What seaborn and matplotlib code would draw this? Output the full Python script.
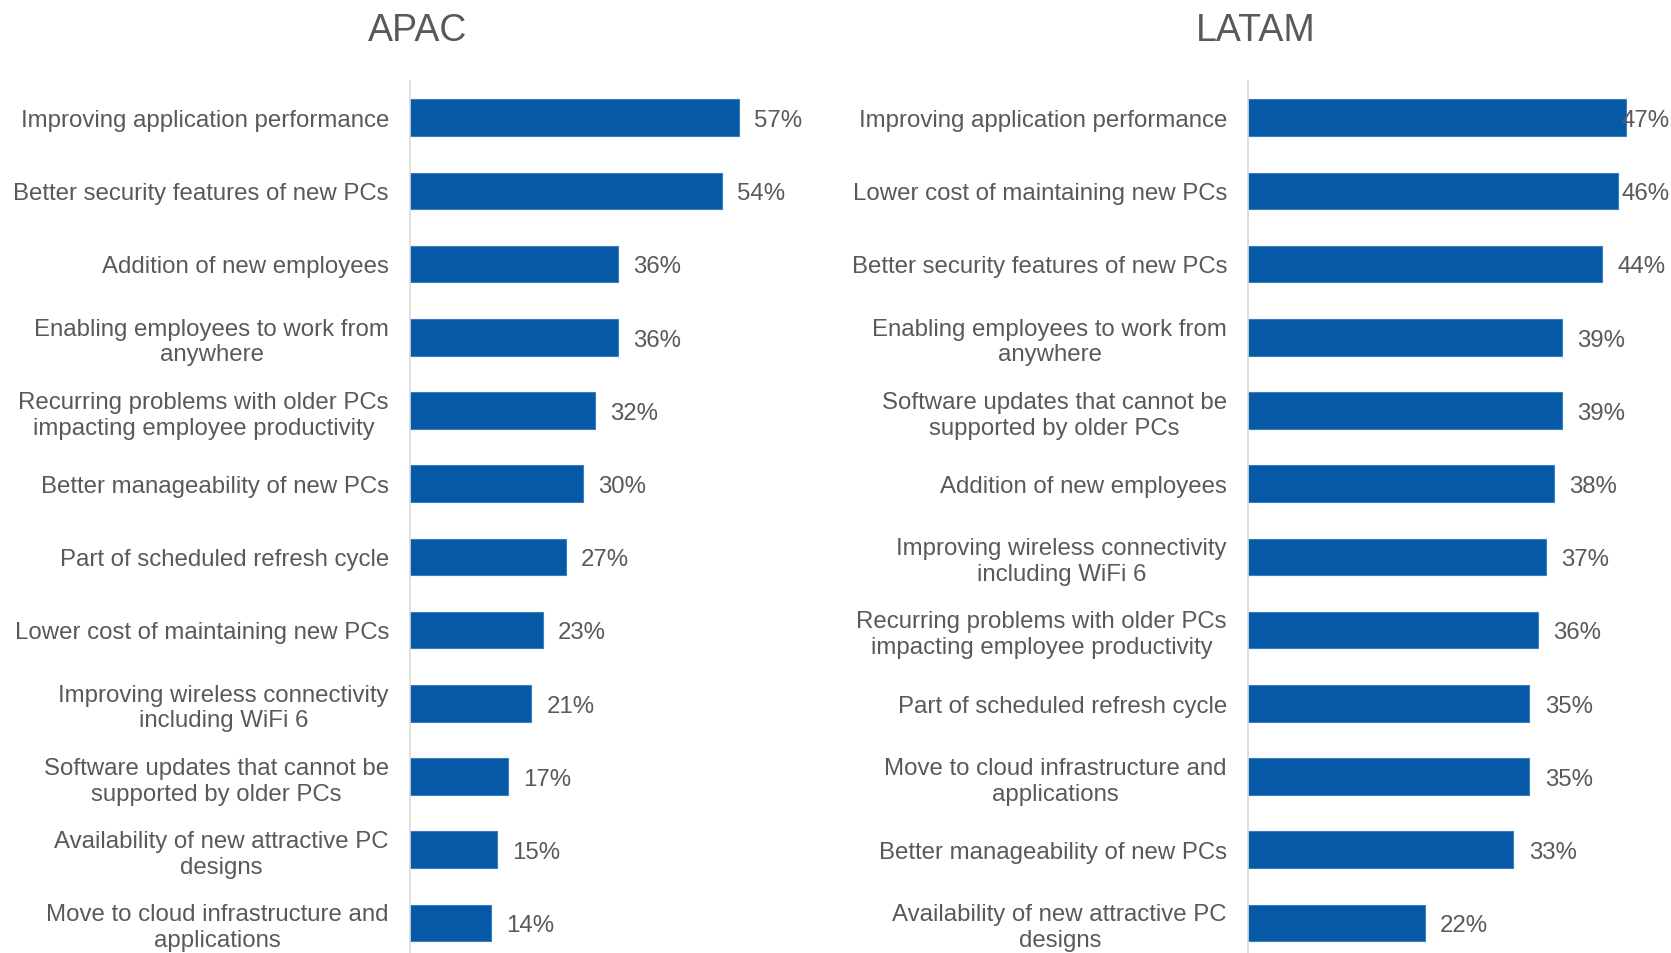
import matplotlib
matplotlib.use("Agg")
import matplotlib.pyplot as plt
import seaborn as sns
import pandas as pd

# reasons for PC refresh, share of respondents (%)
apac_labels = [
    "Improving application performance",
    "Better security features of new PCs",
    "Addition of new employees",
    "Enabling employees to work from\nanywhere",
    "Recurring problems with older PCs\nimpacting employee productivity",
    "Better manageability of new PCs",
    "Part of scheduled refresh cycle",
    "Lower cost of maintaining new PCs",
    "Improving wireless connectivity\nincluding WiFi 6",
    "Software updates that cannot be\nsupported by older PCs",
    "Availability of new attractive PC\ndesigns",
    "Move to cloud infrastructure and\napplications",
]
apac_values = [57, 54, 36, 36, 32, 30, 27, 23, 21, 17, 15, 14]

latam_labels = [
    "Improving application performance",
    "Lower cost of maintaining new PCs",
    "Better security features of new PCs",
    "Enabling employees to work from\nanywhere",
    "Software updates that cannot be\nsupported by older PCs",
    "Addition of new employees",
    "Improving wireless connectivity\nincluding WiFi 6",
    "Recurring problems with older PCs\nimpacting employee productivity",
    "Part of scheduled refresh cycle",
    "Move to cloud infrastructure and\napplications",
    "Better manageability of new PCs",
    "Availability of new attractive PC\ndesigns",
]
latam_values = [47, 46, 44, 39, 39, 38, 37, 36, 35, 35, 33, 22]

sns.set_style("white")
plt.rcParams["font.family"] = ["Liberation Sans", "DejaVu Sans"]

W, H = 1671, 954
fig = plt.figure(figsize=(W / 100, H / 100), dpi=100)

bar_color = "#0559A6"
text_color = "#595959"
fs = 17.3

# axes boxes in pixels: left edge, right edge, x max, title centre
panels = [
    ("APAC", apac_labels, apac_values, 410, 836, 73.8, 418),
    ("LATAM", latam_labels, latam_values, 1248, 1671, 52.6, 1256),
]

top_px, cat_px = 82, 73.2
ax_h = 12 * cat_px

for title, labels, values, x0, x1, xmax, tx in panels:
    ax = fig.add_axes([x0 / W, (H - top_px - ax_h) / H, (x1 - x0) / W, ax_h / H])
    df = pd.DataFrame({"reason": labels, "pct": values})
    sns.barplot(data=df, x="pct", y="reason", orient="h", color=bar_color,
                width=0.5, edgecolor="#3C7DC0", linewidth=0.8, saturation=1, ax=ax)
    ax.set_xlim(0, xmax)
    ax.set_ylim(11.5, -0.5)
    ax.set_xlabel("")
    ax.set_ylabel("")
    ax.set_xticks([])
    for s in ["top", "right", "bottom"]:
        ax.spines[s].set_visible(False)
    ax.spines["left"].set_color("#D9D9D9")
    ax.spines["left"].set_linewidth(1.2)
    ax.tick_params(axis="y", length=0, pad=15)
    for t in ax.get_yticklabels():
        t.set_fontsize(fs)
        t.set_color(text_color)
        t.set_horizontalalignment("center")
        t.set_multialignment("center")
        t.set_linespacing(1.22)

    fig.text(tx / W, 1 - 31 / H, title, ha="center", va="center",
             fontsize=27, color=text_color)

    # value labels, pulled back inside the figure if they would run off
    renderer = fig.canvas.get_renderer()
    for i, v in enumerate(values):
        t = ax.annotate(f"{v}%", (v, i), xytext=(11, 0), textcoords="offset points",
                        ha="left", va="center_baseline", fontsize=fs, color=text_color)
        bb = t.get_window_extent(renderer)
        if bb.x1 > W - 2:
            t.remove()
            ax.annotate(f"{v}%", (1.0, i), xycoords=("axes fraction", "data"),
                        xytext=(-1, 0), textcoords="offset points",
                        ha="right", va="center_baseline", fontsize=fs, color=text_color)

# centre the wrapped tick labels under their own width
fig.canvas.draw()
for ax in fig.axes:
    for t in ax.get_yticklabels():
        bb = t.get_window_extent()
        x_px = ax.get_position().x0 * W - 21 - bb.width / 2
        t.set_transform(matplotlib.transforms.blended_transform_factory(
            fig.transFigure, ax.transData))
        t.set_position((x_px / W, t.get_position()[1]))

fig.savefig("out.png", dpi=100)
